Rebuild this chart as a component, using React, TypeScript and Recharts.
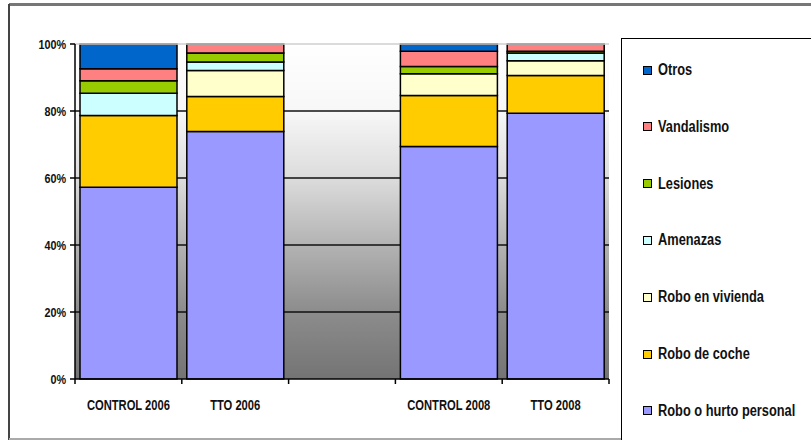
import React from "react";
import {
  BarChart,
  Bar,
  XAxis,
  YAxis,
  CartesianGrid,
  ReferenceLine,
  Legend,
} from "recharts";

const categories = ["CONTROL 2006", "TTO 2006", "", "CONTROL 2008", "TTO 2008"];

// percentages per category (middle slot is empty)
const roboPersonal = [57.3, 73.9, null, 69.5, 79.4];
const roboCoche = [21.4, 10.4, null, 15.2, 11.3];
const roboVivienda = [0, 7.8, null, 6.5, 4.4];
const amenazas = [6.7, 2.5, null, 0, 2.3];
const lesiones = [3.7, 2.7, null, 2.2, 0.5];
const vandalismo = [3.6, 2.7, null, 4.5, 2.2];
const otros = [7.4, 0, null, 2.2, 0];

const yTicks = [0, 0.2, 0.4, 0.6, 0.8, 1];

const series = [
  { key: "Robo o hurto personal", values: roboPersonal, color: "#9999FF" },
  { key: "Robo de coche", values: roboCoche, color: "#FFCC00" },
  { key: "Robo en vivienda", values: roboVivienda, color: "#FFFFCC" },
  { key: "Amenazas", values: amenazas, color: "#CCFFFF" },
  { key: "Lesiones", values: lesiones, color: "#99CC00" },
  { key: "Vandalismo", values: vandalismo, color: "#FF8080" },
  { key: "Otros", values: otros, color: "#0066CC" },
];

const data = categories.map((name, i) => {
  const row: Record<string, any> = { name };
  series.forEach((s) => {
    row[s.key] = s.values[i];
  });
  return row;
});

const W = 811;
const H = 440;
const MARGIN = { top: 44, right: 202, bottom: 31, left: 0 };
const Y_AXIS_W = 75;
const X_AXIS_H = 30;
const PLOT_LEFT = MARGIN.left + Y_AXIS_W;
const PLOT_W = W - PLOT_LEFT - MARGIN.right;
const PLOT_BOTTOM = H - MARGIN.bottom - X_AXIS_H;
const BAND = PLOT_W / categories.length;

// no narrow font installed, so squeeze a normal one
const FONT = "'Liberation Sans', Arial, sans-serif";
const SQUEEZE = 0.8;

function XTick(props: any) {
  const { x, payload, index } = props;
  const isLast = index === categories.length - 1;
  return (
    <g>
      <line x1={x - BAND / 2} x2={x - BAND / 2} y1={PLOT_BOTTOM} y2={PLOT_BOTTOM + 5} stroke="#000" strokeWidth={1.5} />
      {isLast && (
        <line x1={x + BAND / 2} x2={x + BAND / 2} y1={PLOT_BOTTOM} y2={PLOT_BOTTOM + 5} stroke="#000" strokeWidth={1.5} />
      )}
      <text
        transform={`translate(${x},${PLOT_BOTTOM + 31}) scale(${SQUEEZE},1)`}
        textAnchor="middle"
        fontFamily={FONT}
        fontWeight="bold"
        fontSize={14}
        fill="#111"
      >
        {payload.value}
      </text>
    </g>
  );
}

function YTick(props: any) {
  const { x, y, payload } = props;
  return (
    <text
      transform={`translate(${x - 2},${y + 5}) scale(${SQUEEZE},1)`}
      textAnchor="end"
      fontFamily={FONT}
      fontWeight="bold"
      fontSize={13.5}
      fill="#111"
    >
      {`${Math.round(payload.value * 100)}%`}
    </text>
  );
}

function LegendBox(props: any) {
  const order = series.map((s) => s.key).reverse();
  const items = [...(props.payload || [])].sort(
    (a: any, b: any) => order.indexOf(a.value) - order.indexOf(b.value)
  );
  return (
    <div
      style={{
        position: "relative",
        width: 200,
        height: 410,
        borderLeft: "1.5px solid #000",
        borderTop: "1.5px solid #000",
        boxSizing: "border-box",
        background: "#fff",
      }}
    >
      {items.map((it: any, i: number) => (
        <div
          key={it.value}
          style={{
            position: "absolute",
            left: 21,
            top: 31 + i * 56.8 - 10,
            height: 20,
            display: "flex",
            alignItems: "center",
            whiteSpace: "nowrap",
          }}
        >
          <span
            style={{
              display: "inline-block",
              width: 7,
              height: 7,
              border: "1px solid #000",
              background: it.color,
              marginRight: 6,
            }}
          />
          <span
            style={{
              display: "inline-block",
              fontFamily: FONT,
              fontWeight: "bold",
              fontSize: 16,
              color: "#111",
              transform: `scaleX(${SQUEEZE})`,
              transformOrigin: "left center",
            }}
          >
            {it.value}
          </span>
        </div>
      ))}
    </div>
  );
}

export default function App() {
  return (
    <div style={{ position: "fixed", left: 0, top: 0, width: W, height: H, background: "#fff", overflow: "hidden" }}>
      <div style={{ position: "absolute", left: 9, top: 3, width: W, height: 3, background: "#777" }} />
      <div style={{ position: "absolute", left: 8, top: 4, width: 2, height: H, background: "#444" }} />
      <div style={{ position: "absolute", left: 9, top: 438, width: W, height: 2, background: "#aaa" }} />
      <div style={{ position: "absolute", left: 0, top: 0 }}>
        <BarChart width={W} height={H} data={data} margin={MARGIN} stackOffset="expand" barCategoryGap={5}>
          <defs>
            <linearGradient id="plotBg" x1="0" y1="0" x2="0" y2="1">
              <stop offset="0" stopColor="#ffffff" />
              <stop offset="0.2" stopColor="#f7f7f7" />
              <stop offset="0.4" stopColor="#dcdcdc" />
              <stop offset="0.6" stopColor="#b3b3b3" />
              <stop offset="0.8" stopColor="#8c8c8c" />
              <stop offset="1" stopColor="#747474" />
            </linearGradient>
          </defs>
          <CartesianGrid
            vertical={false}
            horizontalValues={[0.2, 0.4, 0.6, 0.8]}
            stroke="#111"
            strokeWidth={1.5}
            fill="url(#plotBg)"
            fillOpacity={1}
          />
          <ReferenceLine y={1} stroke="#cfcfcf" strokeWidth={1.5} />
          <XAxis
            dataKey="name"
            height={X_AXIS_H}
            interval={0}
            tickLine={false}
            axisLine={{ stroke: "#000", strokeWidth: 1.5 }}
            tick={<XTick />}
          />
          <YAxis
            width={Y_AXIS_W}
            ticks={yTicks}
            domain={[0, 1]}
            axisLine={{ stroke: "#000", strokeWidth: 1.5 }}
            tickLine={{ stroke: "#000", strokeWidth: 1.5 }}
            tickSize={5}
            tick={<YTick />}
          />
          {series.map((s) => (
            <Bar
              key={s.key}
              dataKey={s.key}
              stackId="a"
              fill={s.color}
              stroke="#000"
              strokeWidth={1.5}
              isAnimationActive={false}
            />
          ))}
          <Legend
            layout="vertical"
            align="center"
            verticalAlign="middle"
            wrapperStyle={{ left: 621, top: 38, width: 200, height: 410 }}
            content={<LegendBox />}
          />
        </BarChart>
      </div>
    </div>
  );
}
